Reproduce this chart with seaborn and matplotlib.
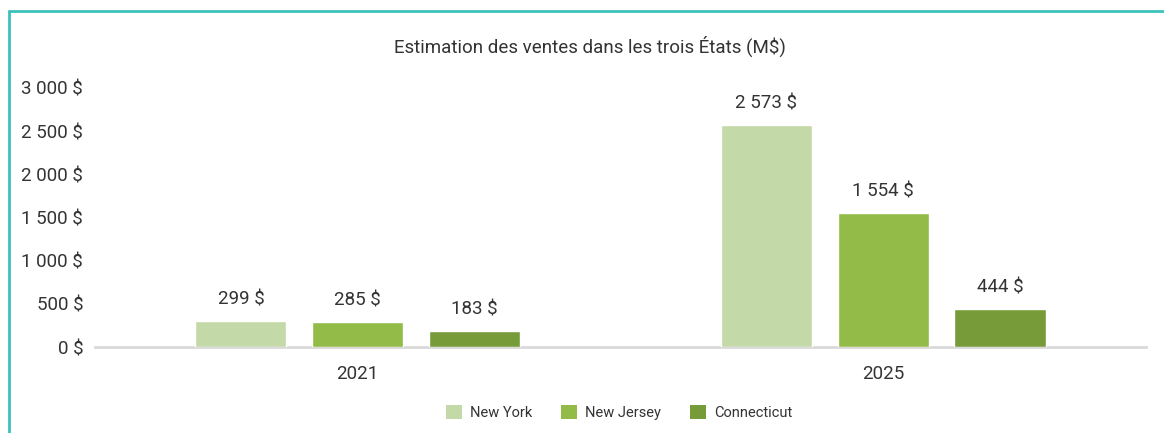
import pandas as pd
import matplotlib.pyplot as plt
import seaborn as sns
from matplotlib.lines import Line2D
from matplotlib.patches import Patch

# Chart data
years = ['2021', '2025']
states = ['New York', 'New Jersey', 'Connecticut']
new_york = [299, 2573]
new_jersey = [285, 1554]
connecticut = [183, 444]
y_ticks = [0, 500, 1000, 1500, 2000, 2500, 3000]
colors = ['#c4d9a8', '#92bc47', '#789b39']


def fr(v):
    # French formatting: space as thousands separator
    return f"{v:,.0f}".replace(',', ' ') + ' $'


df = pd.DataFrame({
    'year': years * 3,
    'state': [s for s in states for _ in years],
    'value': new_york + new_jersey + connecticut,
})

sns.set_theme(style='white')
plt.rcParams['font.family'] = ['Roboto', 'DejaVu Sans']

fig = plt.figure(figsize=(11.64, 4.33), dpi=100)
ax = fig.add_axes([0.0816, 0.1986, 0.9029, 0.5982])

sns.barplot(data=df, x='year', y='value', hue='state', order=years,
            hue_order=states, palette=colors, width=0.667, gap=0.22,
            saturation=1, ax=ax, legend=False)

ax.set_xlim(-0.5, 1.5)
ax.set_ylim(0, 3000)
ax.set_yticks(y_ticks)
ax.set_yticklabels([fr(t) for t in y_ticks], fontsize=13.5, color='#333333')
ax.tick_params(axis='y', length=0, pad=8.5)
ax.tick_params(axis='x', length=0, pad=13, labelsize=13.5, labelcolor='#333333')
ax.set_xlabel('')
ax.set_ylabel('')
for side in ['top', 'right', 'left']:
    ax.spines[side].set_visible(False)
ax.spines['bottom'].set_color('#d9d9d9')
ax.spines['bottom'].set_linewidth(2)
ax.spines['bottom'].set_zorder(0)

for container in ax.containers:
    ax.bar_label(container, labels=[fr(v) for v in container.datavalues],
                 padding=9, fontsize=13.5, color='#333333')

fig.text(0.507, 0.892, 'Estimation des ventes dans les trois États (M$)',
         ha='center', va='center', fontsize=13.5, color='#333333')

handles = [Patch(facecolor=c, edgecolor='none') for c in colors]
fig.legend(handles, states, loc='center', bbox_to_anchor=(0.532, 0.048),
           ncol=3, frameon=False, fontsize=10.5, handlelength=1.1,
           handleheight=1.1, columnspacing=2.0, handletextpad=0.55,
           labelcolor='#333333')

# teal frame (top and left edges)
fig.add_artist(Line2D([0.0077, 1.0], [0.975, 0.975], color='#3cc2bd',
                      lw=2, transform=fig.transFigure))
fig.add_artist(Line2D([0.0077, 0.0077], [0.0, 0.975], color='#3cc2bd',
                      lw=2, transform=fig.transFigure))

fig.savefig('out.png', dpi=100)
